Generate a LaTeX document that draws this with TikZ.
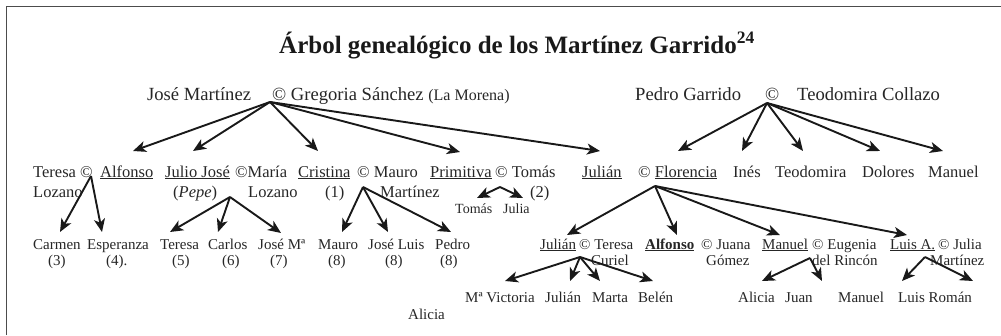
\documentclass[tikz,border=0pt]{standalone}
\usepackage{fontspec}
\setmainfont{Liberation Serif}
\usetikzlibrary{arrows.meta}

\tikzset{
  mayor/.style={anchor=base west, inner sep=0pt, text=black!85, font=\fontsize{18.6}{21}\selectfont},
  persona/.style={anchor=base west, inner sep=0pt, text=black!85, font=\fontsize{16.5}{19}\selectfont},
  hijo/.style={anchor=base west, inner sep=0pt, text=black!85, font=\fontsize{15}{17}\selectfont},
  mini/.style={anchor=base west, inner sep=0pt, text=black!85, font=\fontsize{14}{16}\selectfont},
  arr/.style={-{Stealth[length=13pt,width=11pt,inset=3.5pt]}, line width=1.9pt, black!90}
}

\begin{document}
\begin{tikzpicture}[x=1pt, y=-1pt]
                    \useasboundingbox (0,0) rectangle (1001,335);
                    \draw[line width=1.5pt, black!70] (6.5,335) -- (6.5,6.5) -- (1001,6.5);

                    \node[anchor=base, inner sep=0pt, text=black!90, font=\fontsize{25}{28}\selectfont\bfseries] (titulo) at (517,53) {Árbol genealógico de los Martínez Garrido\textsuperscript{24}};

                    \node[mayor] (jose) at (147,100) {José Martínez};
                    \node[mayor] (gregoria) at (272,100) {© Gregoria Sánchez {\fontsize{16}{18}\selectfont (La Morena)}};
                    \node[mayor] (pedro) at (635,100) {Pedro Garrido};
                    \node[mayor] (pcasado) at (765,100) {©};
                    \node[mayor] (teodomiraC) at (797,100) {Teodomira Collazo};
                    \coordinate (jm) at (270,102);
                    \coordinate (pg) at (767,103);

                    \node[persona] (teresaL) at (33,177) {Teresa ©};
                    \node[persona] (lozano1) at (33,197) {Lozano};
                    \node[persona] (alfonso) at (100,177) {\underline{Alfonso}};
                    \node[persona] (juliojose) at (165,177) {\underline{Julio José}};
                    \node[persona] (pepe) at (173,197) {(\textit{Pepe})};
                    \node[persona] (maria) at (235,177) {©María};
                    \node[persona] (lozano2) at (248,197) {Lozano};
                    \node[persona] (cristina) at (298,177) {\underline{Cristina}};
                    \node[persona] (num1) at (325,197) {(1)};
                    \node[persona] (mauroM) at (357,177) {© Mauro};
                    \node[persona] (martinez1) at (380,197) {Martínez};
                    \node[persona] (primitiva) at (430,177) {\underline{Primitiva}};
                    \node[persona] (tomasP) at (495,177) {© Tomás};
                    \node[persona] (num2) at (530,197) {(2)};
                    \node[persona] (julian) at (582,177) {\underline{Julián}};
                    \node[persona] (florencia) at (638,177) {© \underline{Florencia}};
                    \node[persona] (ines) at (733,177) {Inés};
                    \node[persona] (teodomira) at (775,177) {Teodomira};
                    \node[persona] (dolores) at (862,177) {Dolores};
                    \node[persona] (manuel) at (928,177) {Manuel};
                    \coordinate (at) at (91,176);
                    \coordinate (jj) at (230,197);
                    \coordinate (cm) at (363,187);
                    \coordinate (pt) at (500,187);
                    \coordinate (jf) at (655,186);

                    \node[mini] (tomas) at (455,213) {Tomás};
                    \node[mini] (julia) at (503,213) {Julia};

                    \node[hijo] (carmen) at (33,249) {Carmen};
                    \node[hijo] (num3) at (48,265) {(3)};
                    \node[hijo] (esperanza) at (87,249) {Esperanza};
                    \node[hijo] (num4) at (106,265) {(4).};
                    \node[hijo] (teresa) at (160,249) {Teresa};
                    \node[hijo] (num5) at (172,265) {(5)};
                    \node[hijo] (carlos) at (208,249) {Carlos};
                    \node[hijo] (num6) at (222,265) {(6)};
                    \node[hijo] (josema) at (258,249) {José Mª};
                    \node[hijo] (num7) at (270,265) {(7)};
                    \node[hijo] (mauro) at (318,249) {Mauro};
                    \node[hijo] (num8a) at (328,265) {(8)};
                    \node[hijo] (joseluis) at (368,249) {José Luis};
                    \node[hijo] (num8b) at (385,265) {(8)};
                    \node[hijo] (pedroC) at (435,249) {Pedro};
                    \node[hijo] (num8c) at (440,265) {(8)};

                    \node[hijo] (julian2) at (540,249) {\underline{Julián}};
                    \node[hijo] (teresaC) at (579,249) {© Teresa};
                    \node[hijo] (curiel) at (591,265) {Curiel};
                    \node[hijo] (alfonso2) at (645,249) {\underline{\textbf{Alfonso}}};
                    \node[hijo] (juana) at (701,249) {© Juana};
                    \node[hijo] (gomez) at (706,265) {Gómez};
                    \node[hijo] (manuel2) at (762,249) {\underline{Manuel}};
                    \node[hijo] (eugenia) at (812,249) {© Eugenia};
                    \node[hijo] (rincon) at (812,265) {del Rincón};
                    \node[hijo] (luisA) at (890,249) {\underline{Luis A.}};
                    \node[hijo] (juliaM) at (938,249) {© Julia};
                    \node[hijo] (martinez2) at (930,265) {Martínez};
                    \coordinate (jt) at (580,257);
                    \coordinate (me) at (810,258);
                    \coordinate (lj) at (925,257);

                    \node[hijo] (mavictoria) at (465,302) {Mª Victoria};
                    \node[hijo] (alicia) at (408,319) {Alicia};
                    \node[hijo] (julian3) at (545,302) {Julián};
                    \node[hijo] (marta) at (592,302) {Marta};
                    \node[hijo] (belen) at (638,302) {Belén};
                    \node[hijo] (alicia2) at (738,302) {Alicia};
                    \node[hijo] (juan) at (785,302) {Juan};
                    \node[hijo] (manuel3) at (838,302) {Manuel};
                    \node[hijo] (luisroman) at (898,302) {Luis Román};

                    \draw[arr] (jm) -- ([shift={(33,-26)}]alfonso.base west);
                    \draw[arr] (jm) -- ([shift={(28,-26)}]juliojose.base west);
                    \draw[arr] (jm) -- ([shift={(20,-26)}]cristina.base west);
                    \draw[arr] (jm) -- ([shift={(30,-25)}]primitiva.base west);
                    \draw[arr] (jm) -- ([shift={(18,-26)}]julian.base west);

                    \draw[arr] (pg) -- ([shift={(40,-26)}]florencia.base west);
                    \draw[arr] (pg) -- ([shift={(9,-26)}]ines.base west);
                    \draw[arr] (pg) -- ([shift={(28,-26)}]teodomira.base west);
                    \draw[arr] (pg) -- ([shift={(18,-26)}]dolores.base west);
                    \draw[arr] (pg) -- ([shift={(15,-26)}]manuel.base west);

                    \draw[arr] (pt) -- ([shift={(22,-15)}]tomas.base west);
                    \draw[arr] (pt) -- ([shift={(20,-15)}]julia.base west);

                    \draw[arr] (at) -- ([shift={(27,-17)}]carmen.base west);
                    \draw[arr] (at) -- ([shift={(15,-17)}]esperanza.base west);
                    \draw[arr] (jj) -- ([shift={(10,-17)}]teresa.base west);
                    \draw[arr] (jj) -- ([shift={(10,-17)}]carlos.base west);
                    \draw[arr] (jj) -- ([shift={(23,-16)}]josema.base west);
                    \draw[arr] (cm) -- ([shift={(24,-17)}]mauro.base west);
                    \draw[arr] (cm) -- ([shift={(20,-17)}]joseluis.base west);
                    \draw[arr] (cm) -- ([shift={(16,-17)}]pedroC.base west);

                    \draw[arr] (jf) -- ([shift={(27,-14)}]julian2.base west);
                    \draw[arr] (jf) -- ([shift={(32,-14)}]alfonso2.base west);
                    \draw[arr] (jf) -- ([shift={(18,-14)}]manuel2.base west);
                    \draw[arr] (jf) -- ([shift={(17,-14)}]luisA.base west);

                    \draw[arr] (jt) -- ([shift={(40,-21)}]mavictoria.base west);
                    \draw[arr] (jt) -- ([shift={(25,-21)}]julian3.base west);
                    \draw[arr] (jt) -- ([shift={(8,-21)}]marta.base west);
                    \draw[arr] (jt) -- ([shift={(15,-21)}]belen.base west);
                    \draw[arr] (me) -- ([shift={(24,-21)}]alicia2.base west);
                    \draw[arr] (me) -- ([shift={(37,-21)}]juan.base west);
                    \draw[arr] (lj) -- ([shift={(4,-21)}]luisroman.base west);
                    \draw[arr] (lj) -- ([shift={(75,-21)}]luisroman.base west);
                \end{tikzpicture}
\end{document}
